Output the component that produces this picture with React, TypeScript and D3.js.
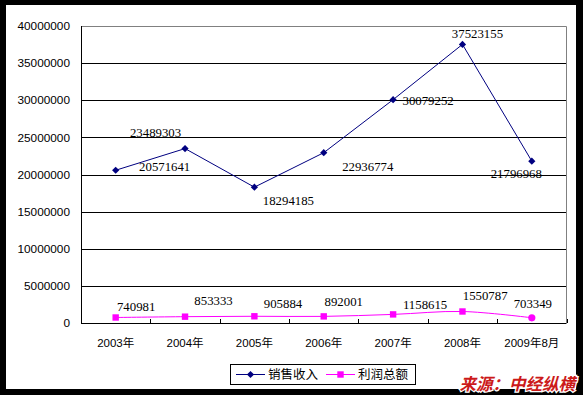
import React from "react";
import * as d3 from "d3";

const categories = ["2003年", "2004年", "2005年", "2006年", "2007年", "2008年", "2009年8月"];
const sales = [20571641, 23489303, 18294185, 22936774, 30079252, 37523155, 21796968];
const profit = [740981, 853333, 905884, 892001, 1158615, 1550787, 703349];
const yTicks = [0, 5000000, 10000000, 15000000, 20000000, 25000000, 30000000, 35000000, 40000000];
const seriesNames = ["销售收入", "利润总额"];
const sourceText = "来源：中经纵横";

// label placement offsets (dx, dy from point, label centre)
const salesLabelOffsets: [number, number][] = [
  [49, -4], [-29.5, -15.6], [34, 13], [44, 14], [35, 1], [15, -10.5], [-15.5, 12],
];
const profitLabelOffsets: [number, number][] = [
  [20.5, -10.5], [28.5, -15.7], [28.6, -12.8], [20, -14.7], [32, -9.4], [22.7, -15.5], [1, -14],
];

const W = 583;
const H = 395;
const left = 81;
const right = 566.5;
const top = 26;
const bottom = 323;
const navy = "#000080";
const magenta = "#ff00ff";
const sansFont = "'Liberation Sans', Arial, 'Noto Sans CJK SC', sans-serif";
const serifFont = "'Liberation Serif', 'Times New Roman', serif";
const cjkFont = "'Noto Sans CJK SC', sans-serif";

export default function App() {
  const x = d3.scaleBand<string>().domain(categories).range([left, right]);
  const cx = (i: number) => (x(categories[i]) as number) + x.bandwidth() / 2;
  const y = d3.scaleLinear().domain([0, 40000000]).range([bottom, top]);

  const salesLine = d3
    .line<number>()
    .x((_, i) => cx(i))
    .y((d) => y(d));
  const profitLine = d3
    .line<number>()
    .x((_, i) => cx(i))
    .y((d) => y(d))
    .curve(d3.curveCatmullRom.alpha(0.5));

  const diamond = (px: number, py: number, r = 3.6) =>
    `M${px},${py - r}L${px + r},${py}L${px},${py + r}L${px - r},${py}Z`;

  const legX = 230;
  const legY = 364;

  return (
    <svg
      width={W}
      height={H}
      style={{ position: "absolute", left: 0, top: 0, display: "block" }}
    >
      <rect x={0} y={0} width={W} height={H} fill="#000" />
      <rect x={6} y={5} width={570} height={384} fill="#fff" />

      {/* gridlines */}
      {yTicks.map((t) => (
        <line
          key={t}
          x1={left}
          x2={right}
          y1={Math.round(y(t)) + 0.5}
          y2={Math.round(y(t)) + 0.5}
          stroke={t === 40000000 ? "#808080" : "#000"}
          strokeWidth={1}
        />
      ))}
      {/* right border */}
      <line x1={right} x2={right} y1={top + 0.5} y2={bottom} stroke="#808080" />
      {/* left axis */}
      <line x1={left + 0.5} x2={left + 0.5} y1={top} y2={bottom + 1} stroke="#000" />

      {/* y labels */}
      {yTicks.map((t) => (
        <text
          key={"l" + t}
          x={70}
          y={y(t)}
          dy="0.35em"
          textAnchor="end"
          fontFamily={sansFont}
          fontSize={11.8}
          fill="#000"
        >
          {t}
        </text>
      ))}

      {/* x tick marks */}
      {categories.map((c, i) => {
        const tx = Math.round((x(c) as number) + x.bandwidth()) + 0.5;
        return <line key={"t" + c} x1={tx} x2={tx} y1={bottom - 4} y2={bottom} stroke="#000" />;
      })}
      {/* x labels */}
      {categories.map((c, i) => (
        <text
          key={"x" + c}
          x={cx(i)}
          y={343}
          dy="0.35em"
          textAnchor="middle"
          fontFamily={sansFont}
          fontSize={11.5}
          fill="#000"
        >
          {c}
        </text>
      ))}

      {/* sales line */}
      <path d={salesLine(sales) || ""} fill="none" stroke={navy} strokeWidth={1} />
      {sales.map((v, i) => (
        <path key={"sd" + i} d={diamond(cx(i), y(v))} fill={navy} />
      ))}

      {/* profit line */}
      <path d={profitLine(profit) || ""} fill="none" stroke={magenta} strokeWidth={1} />
      {profit.map((v, i) =>
        i === profit.length - 1 ? (
          <circle key={"pd" + i} cx={cx(i)} cy={y(v)} r={3.6} fill={magenta} />
        ) : (
          <rect key={"pd" + i} x={cx(i) - 3.2} y={y(v) - 3.2} width={6.4} height={6.4} fill={magenta} />
        )
      )}

      {/* sales labels */}
      {sales.map((v, i) => (
        <text
          key={"sl" + i}
          x={cx(i) + salesLabelOffsets[i][0]}
          y={y(v) + salesLabelOffsets[i][1]}
          dy="0.35em"
          textAnchor="middle"
          fontFamily={serifFont}
          fontSize={12.8}
          fill="#000"
        >
          {v}
        </text>
      ))}
      {/* profit labels */}
      {profit.map((v, i) => (
        <text
          key={"pl" + i}
          x={cx(i) + profitLabelOffsets[i][0]}
          y={y(v) + profitLabelOffsets[i][1]}
          dy="0.35em"
          textAnchor="middle"
          fontFamily={serifFont}
          fontSize={12.8}
          fill="#000"
        >
          {v}
        </text>
      ))}

      {/* legend */}
      <rect x={legX + 0.5} y={legY + 0.5} width={185} height={20} fill="#fff" stroke="#000" />
      <line x1={legX + 6} x2={legX + 35} y1={legY + 10.5} y2={legY + 10.5} stroke={navy} />
      <path d={diamond(legX + 20.5, legY + 10.5)} fill={navy} />
      <text x={legX + 38} y={legY + 10.5} dy="0.35em" fontFamily={cjkFont} fontSize={12.5} fill="#000">
        {seriesNames[0]}
      </text>
      <line x1={legX + 96} x2={legX + 125} y1={legY + 10.5} y2={legY + 10.5} stroke={magenta} />
      <rect x={legX + 107.3} y={legY + 7.3} width={6.4} height={6.4} fill={magenta} />
      <text x={legX + 128} y={legY + 10.5} dy="0.35em" fontFamily={cjkFont} fontSize={12.5} fill="#000">
        {seriesNames[1]}
      </text>

      {/* source watermark */}
      <text
        x={575}
        y={390}
        textAnchor="end"
        fontFamily={cjkFont}
        fontWeight="bold"
        fontStyle="italic"
        fontSize={16.5}
        fill="#cc1a1a"
        stroke="#fff"
        strokeWidth={2.5}
        paintOrder="stroke"
        transform="skewX(0)"
      >
        {sourceText}
      </text>
    </svg>
  );
}
